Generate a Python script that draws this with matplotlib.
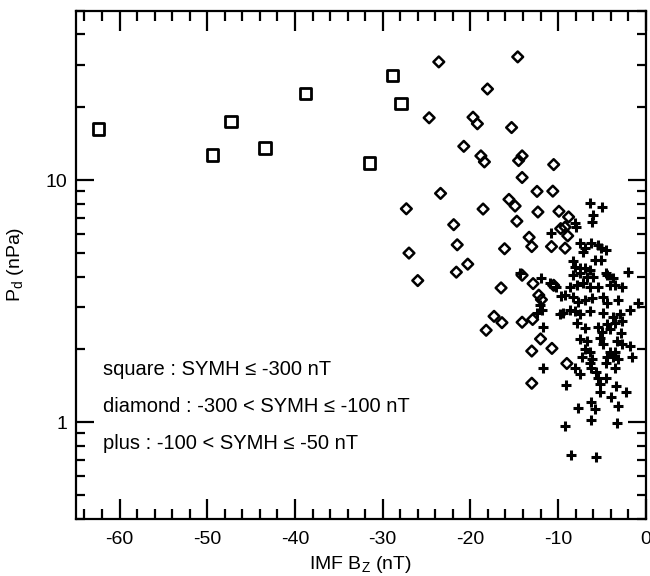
import matplotlib
matplotlib.use("Agg")
import matplotlib.pyplot as plt
from matplotlib.ticker import FixedLocator, NullFormatter, LogLocator

plt.rcParams['font.family'] = ['Liberation Sans', 'DejaVu Sans']

# square : SYMH <= -300 nT
sq_bz = [-62.4, -49.4, -47.3, -43.4, -38.8, -31.5, -28.9, -27.9]
sq_pd = [16.3, 12.7, 17.5, 13.6, 22.8, 11.8, 27.0, 20.7]

# diamond : -300 < SYMH <= -100 nT
dm_bz = [-23.6, -14.6, -18.05, -24.7, -19.7, -19.2, -15.3, -20.75, -18.8, -18.4,
         -14.1, -14.5, -10.5, -14.1, -23.4, -12.4, -10.6, -27.3, -18.55, -15.6,
         -14.9, -12.3, -9.9, -8.8, -21.9, -14.7, -9.7, -8.9, -13.3, -21.5,
         -13.0, -10.75, -16.1, -27.0, -20.3, -21.6, -26.0, -12.85, -16.5, -12.2,
         -11.9, -14.1, -17.3, -18.2, -16.4, -14.1, -12.9, -12.0, -13.0, -10.7,
         -9.0, -13.0, -9.2, -9.2, -10.5]
dm_pd = [30.8, 32.3, 23.8, 18.1, 18.2, 17.1, 16.5, 13.8, 12.6, 11.9,
         12.6, 12.05, 11.6, 10.26, 8.82, 8.99, 9.01, 7.62, 7.60, 8.33,
         7.82, 7.39, 7.44, 7.05, 6.55, 6.77, 6.31, 5.89, 5.81, 5.41,
         5.32, 5.32, 5.21, 5.00, 4.50, 4.17, 3.85, 3.74, 3.59, 3.35,
         3.21, 4.05, 2.74, 2.40, 2.58, 2.59, 2.66, 2.21, 1.97, 2.02,
         1.75, 1.45, 6.40, 5.24, 3.68]

# plus : -100 < SYMH <= -50 nT
pl_bz = [-6.39, -4.98, -6.01, -6.12, -8.10, -7.90, -10.75, -7.53, -6.96, -6.19,
         -5.44, -5.05, -4.48, -7.15, -5.82, -5.05, -8.29, -8.10, -7.53, -6.96,
         -6.39, -4.48, -2.02, -11.89, -10.95, -10.18, -12.09, -11.78, -12.46, -9.61,
         -9.81, -11.71, -14.37,
         -8.32, -7.53, -6.73, -6.04, -4.45, -3.76,
         -8.67, -7.87, -7.18, -6.39, -5.47, -4.10, -3.53, -2.74,
         -9.24, -8.32, -7.75, -6.96, -6.16, -4.90, -4.45, -3.19,
         -9.46, -8.67, -8.10, -7.53, -6.39, -4.90, -3.76, -2.96, -1.82,
         -7.87, -6.96, -5.47, -4.45, -3.53, -2.74, -5.02, -4.10,
         -7.53, -6.73, -5.25, -4.90, -3.31, -2.74, -1.82, -6.96, -6.39, -4.10, -3.53,
         -7.30, -6.16, -4.45, -3.76, -3.19, -1.60,
         -11.71, -8.10, -7.53, -6.39, -6.19, -5.62, -5.44, -4.48, -3.53, -4.48,
         -5.25, -5.25, -3.34, -3.91, -3.16, -2.28, -9.04, -7.72, -6.19, -5.82,
         -9.24, -6.19, -3.27, -8.47, -5.62, -2.77, -0.88]
pl_pd = [8.02, 7.77, 7.18, 6.70, 6.64, 6.43, 6.08, 5.49, 5.24, 5.49,
         5.41, 5.24, 5.16, 5.07, 4.69, 4.69, 4.62, 4.40, 4.34, 4.34,
         4.27, 4.14, 4.16, 3.94, 3.77, 3.63, 3.06, 2.92, 2.83, 3.34,
         2.79, 2.48, 4.14,
         4.07, 4.14, 4.00, 4.00, 4.07, 3.94,
         3.63, 3.70, 3.77, 3.63, 3.63, 3.70, 3.70, 3.63,
         3.37, 3.30, 3.15, 3.21, 3.27, 3.30, 3.12, 3.21,
         2.84, 2.92, 2.87, 2.79, 2.87, 2.84, 2.73, 2.79, 2.92,
         2.58, 2.46, 2.48, 2.54, 2.58, 2.61, 2.35, 2.42,
         2.20, 2.16, 2.24, 2.10, 2.16, 2.10, 2.06, 2.00, 1.96, 1.96, 1.95,
         1.86, 1.82, 1.87, 1.86, 1.82, 1.87,
         1.67, 1.68, 1.58, 1.76, 1.68, 1.61, 1.53, 1.76, 1.68, 1.53,
         1.44, 1.33, 1.41, 1.27, 1.17, 1.33, 1.42, 1.15, 1.21, 1.13,
         0.97, 1.02, 0.99, 0.73, 0.72, 2.34, 3.11]

legend_lines = ["square : SYMH \u2264 -300 nT",
                "diamond : -300 < SYMH \u2264 -100 nT",
                "plus : -100 < SYMH \u2264 -50 nT"]

x_major = [-60, -50, -40, -30, -20, -10, 0]
y_major = [1, 10]
y_major_labels = ["1", "10"]

fig = plt.figure(figsize=(6.5, 5.76), dpi=100)
ax = fig.add_axes([0.1165, 0.0995, 0.877, 0.8815])

ax.scatter(sq_bz, sq_pd, marker='s', s=68, facecolors='none', edgecolors='black', linewidths=2.0, zorder=3)
ax.scatter(dm_bz, dm_pd, marker='D', s=30, facecolors='none', edgecolors='black', linewidths=1.8, zorder=3)
ax.scatter(pl_bz, pl_pd, marker='+', s=60, color='black', linewidths=2.2, zorder=3)

ax.set_yscale('log')
ax.set_xlim(-65, 0)
ax.set_ylim(0.4, 50)

ax.xaxis.set_major_locator(FixedLocator(x_major))
ax.xaxis.set_minor_locator(FixedLocator(list(range(-64, 1, 2))))
ax.set_xticklabels([str(v) for v in x_major])
ax.yaxis.set_major_locator(FixedLocator(y_major))
ax.set_yticklabels(y_major_labels)
ax.yaxis.set_minor_locator(LogLocator(base=10, subs=[2, 3, 4, 5, 6, 7, 8, 9]))
ax.yaxis.set_minor_formatter(NullFormatter())

for sp in ax.spines.values():
    sp.set_linewidth(1.6)

ax.tick_params(axis='both', which='both', direction='in', top=True, right=True, width=1.6, labelsize=14, colors='black')
ax.tick_params(axis='x', which='major', length=14.5, pad=9)
ax.tick_params(axis='x', which='minor', length=7)
ax.tick_params(axis='y', which='major', length=13, pad=6)
ax.tick_params(axis='y', which='minor', length=6.5)

ax.set_xlabel("IMF B$_\\mathregular{Z}$ (nT)", fontsize=14, labelpad=4)
ax.set_ylabel("P$_\\mathregular{d}$ (nPa)", fontsize=14, labelpad=14)

for i, t in enumerate(legend_lines):
    ax.text(0.048, 0.293 - i * 0.072, t, transform=ax.transAxes, fontsize=14.5, va='center', ha='left')

fig.savefig("out.png", dpi=100)
